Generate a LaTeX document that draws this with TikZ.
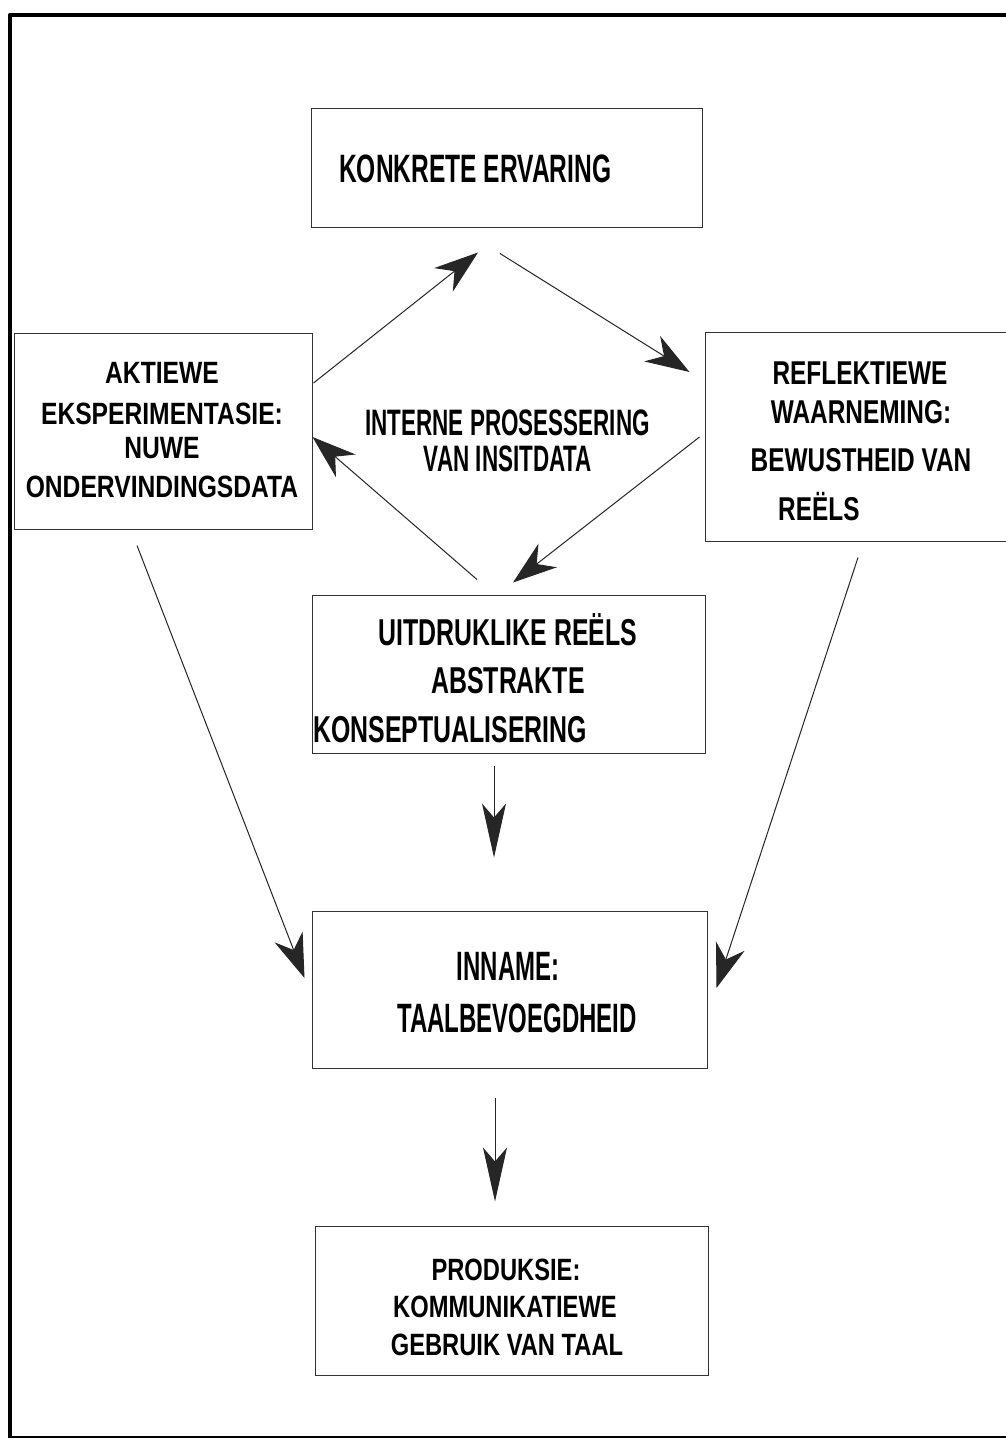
\documentclass[tikz,border=0pt]{standalone}
\usepackage{fontspec}
\usetikzlibrary{arrows.meta,calc}
\setmainfont{Liberation Sans}
% condensed faces of one sans family, one per text block
\newfontfamily\fKE[FakeStretch=0.62]{Liberation Sans}
\newfontfamily\fIP[FakeStretch=0.61]{Liberation Sans}
\newfontfamily\fUR[FakeStretch=0.665]{Liberation Sans}
\newfontfamily\fIN[FakeStretch=0.585]{Liberation Sans}
\newfontfamily\fAE[FakeStretch=0.80]{Liberation Sans}
\newfontfamily\fRW[FakeStretch=0.74]{Liberation Sans}
\newfontfamily\fPR[FakeStretch=0.77]{Liberation Sans}

\tikzset{
  box/.style={draw=black!80, line width=1pt, rectangle, inner sep=0pt},
  lbl/.style={anchor=base, inner sep=0pt, text=black},
  tKE/.style={lbl, font=\fKE\bfseries\fontsize{39.6}{42}\selectfont},
  tIP/.style={lbl, font=\fIP\bfseries\fontsize{36.8}{40}\selectfont},
  tUR/.style={lbl, font=\fUR\bfseries\fontsize{37.4}{40}\selectfont},
  tIN/.style={lbl, font=\fIN\bfseries\fontsize{41}{44}\selectfont},
  tAE/.style={lbl, font=\fAE\bfseries\fontsize{30.8}{33}\selectfont},
  tRW/.style={lbl, font=\fRW\bfseries\fontsize{33}{36}\selectfont},
  tPR/.style={lbl, font=\fPR\bfseries\fontsize{30.8}{33}\selectfont},
  conn/.style={line width=1pt, black!85, -{Stealth[length=44pt,width=30pt,inset=14pt]}},
  vconn/.style={line width=1pt, black!85, -{Stealth[length=54pt,width=24pt,inset=14pt]}},
}

\begin{document}
\begin{tikzpicture}[x=1pt, y=-1pt]
\clip (0,0) rectangle (1006,1440);
\fill[white] (0,0) rectangle (1006,1440);

% outer frame (its right side lies past the page edge)
\draw[line width=4.5pt, line join=round] (10,1437) -- (10,15) -- (1040,15);
\draw[line width=2.5pt] (8,1437) -- (1040,1437);

% boxes
\node[box, minimum width=391pt, minimum height=119pt] (K) at (506.5,167.5) {};
\node[box, minimum width=298pt, minimum height=196pt] (A) at (163,431) {};
\node[box, minimum width=310pt, minimum height=209pt] (R) at (860,436.5) {};
\node[box, minimum width=393pt, minimum height=158pt] (U) at (508.5,674) {};
\node[box, minimum width=395pt, minimum height=157pt] (I) at (509.5,989.5) {};
\node[box, minimum width=393pt, minimum height=149pt] (P) at (511.5,1300.5) {};

% texts
\node[tKE, anchor=base west] (k1) at (339,182) {KONKRETE ERVARING};

\node[tIP] (c1) at (507.5,435) {INTERNE PROSESSERING};
\node[tIP] (c2) at (508,471) {VAN INSITDATA};

\node[tAE] (a1) at (162,383) {AKTIEWE};
\node[tAE] (a2) at (162,424) {EKSPERIMENTASIE:};
\node[tAE] (a3) at (162,458) {NUWE};
\node[tAE] (a4) at (162,497) {ONDERVINDINGSDATA};

\node[tRW] (r1) at (860,384) {REFLEKTIEWE};
\node[tRW] (r2) at (861,423) {WAARNEMING:};
\node[tRW] (r3) at (861,471) {BEWUSTHEID VAN};
\node[tRW, anchor=base west] (r4) at (778,520) {REËLS};

\node[tUR] (u1) at (508,645) {UITDRUKLIKE REËLS};
\node[tUR] (u2) at (508,693) {ABSTRAKTE};
\node[tUR, anchor=base west] (u3) at (313,742) {KONSEPTUALISERING};

\node[tIN] (i1) at (508,980) {INNAME:};
\node[tIN] (i2) at (517,1032) {TAALBEVOEGDHEID};

\node[tPR] (p1) at (506,1280) {PRODUKSIE:};
\node[tPR] (p2) at (505,1317) {KOMMUNIKATIEWE};
\node[tPR] (p3) at (507,1355) {GEBRUIK VAN TAAL};

% learning cycle
\draw[conn] ($(A.east)+(1,-48)$) -- ($(K.south)+(-28.5,25)$);
\draw[conn] ($(K.south)+(-6.5,26)$) -- ($(R.west)+(-15,-64.5)$);
\draw[conn] ($(R.west)+(-5,0.5)$) -- ($(U.north)+(4.5,-12)$);
\draw[conn] ($(U.north)+(-31.5,-15)$) -- ($(A.east)+(0,6)$);

% flow downwards
\draw[vconn] ($(U.south)+(-14.5,12)$) -- ($(I.north)+(-15.5,-53)$);
\draw[vconn] ($(I.south)+(-14.5,29)$) -- ($(P.north)+(-16.5,-24)$);
\draw[conn] ($(A.south)+(-26,16)$) -- ($(I.west)+(-7,-11.5)$);
\draw[conn] ($(R.south)+(-2,16)$) -- ($(I.east)+(9,-1.5)$);
\end{tikzpicture}
\end{document}
